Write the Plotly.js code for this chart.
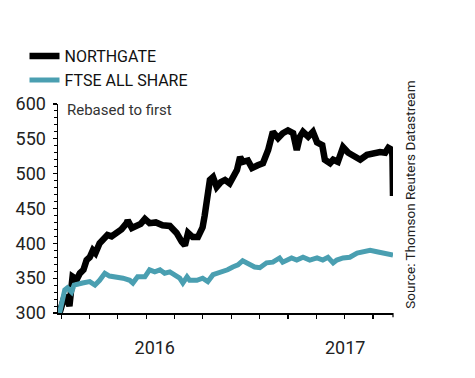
<!DOCTYPE html>
<html>
<head>
<meta charset="utf-8">
<script src="https://cdn.plot.ly/plotly-3.0.1.min.js"></script>
<style>html,body{margin:0;padding:0;background:#fff;}#chart{width:475px;height:378px;}</style>
</head>
<body>
<div id="chart"></div>
<script>
const ngDates = ['2015-07-02','2015-07-12','2015-07-17','2015-07-21','2015-07-27','2015-08-04','2015-08-10','2015-08-17','2015-08-23','2015-08-29','2015-09-04','2015-09-09','2015-09-17','2015-09-27','2015-10-02','2015-10-10','2015-10-20','2015-10-29','2015-11-08','2015-11-10','2015-11-18','2015-11-27','2015-12-05','2015-12-13','2015-12-22','2016-01-03','2016-01-16','2016-01-30','2016-02-07','2016-02-12','2016-02-22','2016-02-28','2016-03-05','2016-03-14','2016-03-24','2016-04-02','2016-04-06','2016-04-10','2016-04-16','2016-04-22','2016-04-29','2016-05-07','2016-05-15','2016-05-24','2016-05-30','2016-06-07','2016-06-13','2016-06-18','2016-06-28','2016-07-06','2016-07-17','2016-07-27','2016-08-06','2016-08-15','2016-08-25','2016-09-03','2016-09-13','2016-09-23','2016-09-30','2016-10-06','2016-10-12','2016-10-22','2016-10-31','2016-11-08','2016-11-18','2016-11-23','2016-12-03','2016-12-09','2016-12-18','2016-12-28','2017-01-07','2017-01-16','2017-01-30','2017-02-12','2017-02-24','2017-03-09','2017-03-19','2017-03-25','2017-04-01','2017-04-02','2017-04-03'];
const ngValues = [300,325,319,310,352,348,357,362,376,380,390,386,400,409,412,410,416,420,429,433,422,424,428,435,429,430,426,425,420,415,402,397,415,409,409,423,440,466,491,495,481,488,491,486,495,505,524,517,519,508,512,515,534,560,551,558,562,558,534,553,560,553,560,545,541,520,515,520,517,538,530,527,520,527,530,531,530,537,534,524,468];

const ftDates = ['2015-07-02','2015-07-08','2015-07-12','2015-07-17','2015-07-25','2015-07-30','2015-08-07','2015-08-15','2015-08-29','2015-09-08','2015-09-17','2015-09-27','2015-10-06','2015-10-20','2015-11-01','2015-11-14','2015-11-20','2015-11-29','2015-12-13','2015-12-22','2016-01-01','2016-01-11','2016-01-20','2016-01-30','2016-02-08','2016-02-18','2016-02-24','2016-03-03','2016-03-08','2016-03-22','2016-04-02','2016-04-12','2016-04-22','2016-05-01','2016-05-11','2016-05-20','2016-05-30','2016-06-09','2016-06-18','2016-06-26','2016-07-02','2016-07-11','2016-07-21','2016-08-03','2016-08-15','2016-08-28','2016-09-03','2016-09-20','2016-09-30','2016-10-12','2016-10-25','2016-11-08','2016-11-19','2016-11-29','2016-12-09','2016-12-16','2016-12-28','2017-01-10','2017-01-24','2017-02-04','2017-02-18','2017-03-03','2017-03-15','2017-03-28','2017-04-03'];
const ftValues = [300,320,333,336,330,340,342,343,345,340,347,357,353,352,350,347,343,352,352,362,359,362,357,359,355,350,343,352,347,347,350,345,355,357,360,362,366,369,375,372,369,366,365,372,373,379,373,379,376,380,376,379,376,380,372,376,379,380,386,388,390,388,386,383,383];

const seriesNames = ['NORTHGATE','FTSE ALL SHARE'];
const yearTickVals = ['2016-01-01','2017-01-01'];
const yearTickText = ['2016','2017'];
const xRange = ['2015-06-29', '2017-04-03'];

const traces = [
  {x: ngDates, y: ngValues, name: seriesNames[0], type: 'scatter', mode: 'lines',
   line: {color: '#000000', width: 6.5}},
  {x: ftDates, y: ftValues, name: seriesNames[1], type: 'scatter', mode: 'lines',
   line: {color: '#4a9fb1', width: 5}}
];

const layout = {
  width: 475, height: 378,
  margin: {l: 58, r: 82, t: 104, b: 65},
  paper_bgcolor: '#fff', plot_bgcolor: '#fff',
  font: {family: 'Roboto, sans-serif', color: '#222'},
  showlegend: true,
  legend: {x: -0.1, xanchor: 'left', y: 1.31, yanchor: 'top', font: {size: 16, color: '#111'},
           bgcolor: 'rgba(0,0,0,0)', tracegroupgap: 0},
  xaxis: {
    type: 'date', range: xRange,
    showgrid: false, zeroline: false, showline: true, linecolor: '#000', linewidth: 1.5,
    tickmode: 'linear', tick0: '2015-07-05', dtick: 4708800000,
    ticks: 'outside', ticklen: 4, tickcolor: '#000', tickwidth: 1.2,
    showticklabels: false
  },
  xaxis2: {
    type: 'date', range: xRange, overlaying: 'x', side: 'bottom', anchor: 'y',
    showgrid: false, zeroline: false, showline: false,
    tickmode: 'array', tickvals: yearTickVals, ticktext: yearTickText,
    ticks: '', ticklabelstandoff: 22, tickfont: {size: 18, color: '#222'}
  },
  yaxis: {
    range: [300, 600], dtick: 50, tick0: 300,
    showgrid: false, zeroline: false, showline: true, linecolor: '#000', linewidth: 1.5,
    ticks: 'outside', ticklen: 4, tickcolor: '#000', tickwidth: 1.2,
    tickfont: {size: 18, color: '#222'}, ticklabelstandoff: 3,
    minor: {ticks: 'outside', ticklen: 3, dtick: 10, tickcolor: '#000', tickwidth: 1, showgrid: false}
  },
  annotations: [
    {text: 'Rebased to first', xref: 'paper', yref: 'paper', x: 0.02, y: 1.025, xanchor: 'left', yanchor: 'top',
     showarrow: false, font: {size: 15, color: '#333'}},
    {text: 'Source: Thomson Reuters Datastream', xref: 'paper', yref: 'paper', x: 1.05, y: 0.01,
     xanchor: 'center', yanchor: 'bottom', textangle: -90, showarrow: false, font: {size: 13.5, color: '#222'}}
  ],
  shapes: [
    {type: 'line', xref: 'paper', yref: 'paper', x0: 1, x1: 1, y0: 0, y1: -0.02, line: {color: '#000', width: 1.2}}
  ]
};

// invisible trace to activate xaxis2 for the year labels
traces.push({x: xRange, y: [null, null], xaxis: 'x2', yaxis: 'y', type: 'scatter', mode: 'lines',
             showlegend: false, hoverinfo: 'skip'});

Plotly.newPlot('chart', traces, layout, {displayModeBar: false, staticPlot: true});
</script>
</body>
</html>
